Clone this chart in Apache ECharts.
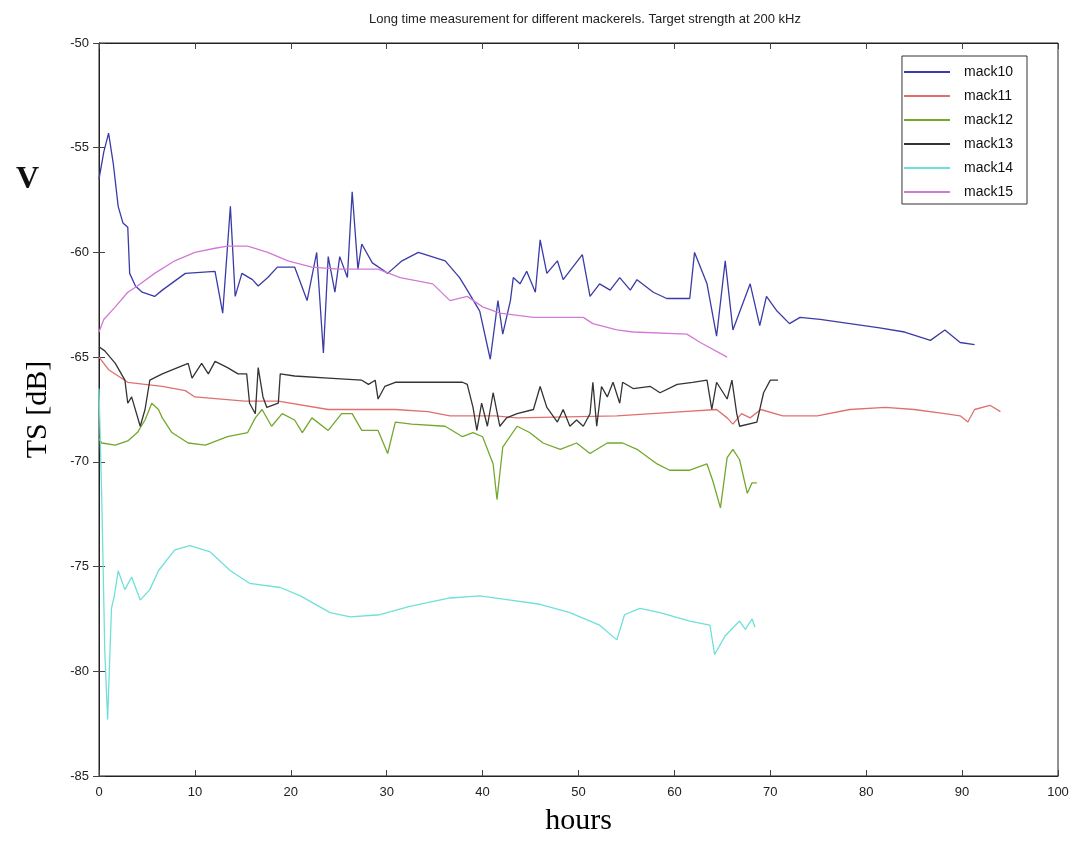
<!DOCTYPE html>
<html><head><meta charset="utf-8">
<script src="https://cdn.jsdelivr.net/npm/echarts@6/dist/echarts.min.js"></script>
<style>html,body{margin:0;padding:0;background:#fff}#c{width:1086px;height:856px}</style>
</head><body><div id="c"></div>
<script>
const seriesNames = ['mack10','mack11','mack12','mack13','mack14','mack15'];
const xTicks = [0,10,20,30,40,50,60,70,80,90,100];
const yTicks = [-85,-80,-75,-70,-65,-60,-55,-50];

const mack10 = [[0,-56.5],[0.5,-55.2],[1,-54.3],[1.5,-55.8],[2,-57.8],[2.5,-58.6],[3,-58.8],[3.2,-61],[3.8,-61.6],[4.5,-61.9],[5.8,-62.1],[6.6,-61.8],[9,-61],[12.1,-60.9],[12.9,-62.9],[13.7,-57.8],[14.2,-62.1],[14.9,-61],[16,-61.3],[16.6,-61.6],[17.6,-61.2],[18.6,-60.7],[20.4,-60.7],[21.7,-62.3],[22.7,-60],[23.4,-64.8],[23.9,-60.2],[24.6,-61.9],[25.1,-60.2],[25.9,-61.2],[26.4,-57.1],[27,-60.8],[27.4,-59.6],[28.5,-60.5],[29.5,-60.8],[30.1,-61],[31.6,-60.4],[33.3,-60],[36.1,-60.4],[37.6,-61.2],[38.4,-61.8],[39.7,-62.8],[40.8,-65.1],[41.6,-62.3],[42.1,-63.9],[42.9,-62.3],[43.2,-61.2],[43.9,-61.5],[44.6,-60.9],[45.5,-61.9],[46,-59.4],[46.7,-61],[47.8,-60.4],[48.4,-61.3],[49.4,-60.7],[50.4,-60.1],[51.2,-62.1],[52.2,-61.5],[53.3,-61.8],[54.3,-61.2],[55.4,-61.8],[56.1,-61.3],[57.8,-61.9],[59.2,-62.2],[61.6,-62.2],[62.1,-60],[63.4,-61.5],[64.4,-64],[65.3,-60.4],[66.1,-63.7],[67.9,-61.5],[68.9,-63.5],[69.6,-62.1],[70.7,-62.8],[72,-63.4],[73.1,-63.1],[75.2,-63.2],[78.3,-63.4],[81.4,-63.6],[84,-63.8],[86.7,-64.2],[88.2,-63.7],[89.8,-64.3],[91.3,-64.4]];
const mack11 = [[0,-65],[1,-65.6],[3,-66.2],[6.6,-66.4],[9,-66.6],[10,-66.9],[15.2,-67.1],[18.7,-67.1],[23.9,-67.5],[30.9,-67.5],[34.3,-67.6],[36.6,-67.8],[41.3,-67.8],[43.6,-67.9],[54,-67.8],[60.9,-67.6],[64.4,-67.5],[65.5,-67.9],[66.1,-68.2],[67,-67.7],[67.9,-67.9],[69,-67.5],[71.3,-67.8],[74.9,-67.8],[78.3,-67.5],[82,-67.4],[85,-67.5],[88.2,-67.7],[89.8,-67.8],[90.6,-68.1],[91.3,-67.5],[92.9,-67.3],[94,-67.6]];
const mack12 = [[0,-68.9],[0.3,-69.1],[1.7,-69.2],[3,-69],[4,-68.6],[4.8,-68],[5.5,-67.2],[6.2,-67.5],[6.6,-67.9],[7.6,-68.6],[9.3,-69.1],[11.1,-69.2],[13.4,-68.8],[15.5,-68.6],[16.3,-67.9],[17,-67.5],[18,-68.3],[19.1,-67.7],[20.4,-68],[21.2,-68.6],[22.2,-67.9],[23.9,-68.5],[25.3,-67.7],[26.4,-67.7],[27.4,-68.5],[29.1,-68.5],[30.1,-69.6],[30.9,-68.1],[32.6,-68.2],[36.1,-68.3],[37.9,-68.8],[39,-68.6],[40,-68.8],[41.1,-70.1],[41.5,-71.8],[42.1,-69.3],[43.6,-68.3],[44.9,-68.6],[46.3,-69.1],[48.1,-69.4],[49.8,-69.1],[51.2,-69.6],[53,-69.1],[54.6,-69.1],[56.1,-69.4],[58.2,-70.1],[59.5,-70.4],[61.6,-70.4],[63.4,-70.1],[64,-70.9],[64.8,-72.2],[65.5,-69.8],[66.1,-69.4],[66.8,-69.9],[67.6,-71.5],[68.1,-71],[68.6,-71]];
const mack13 = [[0,-64.5],[0.6,-64.7],[1.7,-65.3],[2.7,-66.1],[3,-67.2],[3.4,-66.9],[4.3,-68.3],[4.8,-67.5],[5.3,-66.1],[6.6,-65.8],[8.2,-65.5],[9.3,-65.3],[9.7,-66],[10.7,-65.3],[11.4,-65.8],[12.1,-65.2],[13.4,-65.5],[14.5,-65.8],[15.4,-65.8],[15.7,-67.2],[16.3,-67.7],[16.6,-65.5],[17.1,-66.9],[17.5,-67.4],[18.7,-67.2],[18.9,-65.8],[20.4,-65.9],[23.9,-66],[27.4,-66.1],[28.1,-66.3],[28.8,-66.1],[29.1,-67],[29.8,-66.4],[30.9,-66.2],[34.3,-66.2],[37.9,-66.2],[38.4,-66.3],[39,-67.4],[39.4,-68.5],[39.9,-67.2],[40.5,-68.3],[41.1,-66.7],[41.8,-68.3],[42.5,-67.9],[43.6,-67.7],[45.3,-67.5],[46,-66.4],[46.7,-67.4],[47.8,-68.1],[48.4,-67.5],[49.1,-68.3],[49.8,-68],[50.5,-68.3],[51.2,-67.7],[51.5,-66.2],[51.9,-68.3],[52.4,-66.4],[53,-66.9],[53.6,-66.2],[54.3,-67.2],[54.6,-66.2],[55.7,-66.5],[57.5,-66.4],[58.5,-66.7],[60.3,-66.3],[61.9,-66.2],[63.4,-66.1],[63.9,-67.5],[64.4,-66.2],[65.5,-67],[66,-66.1],[66.5,-67.7],[66.8,-68.3],[68.6,-68.1],[69.3,-66.7],[70,-66.1],[70.8,-66.1]];
const mack14 = [[0,-66.5],[0.3,-72],[0.6,-79],[0.9,-82.3],[1.3,-77],[1.6,-76.4],[2,-75.2],[2.7,-76.1],[3.4,-75.5],[4.3,-76.6],[5.3,-76.1],[6.2,-75.2],[7.9,-74.2],[9.5,-74],[11.6,-74.3],[13.7,-75.2],[15.7,-75.8],[18.9,-76],[21,-76.4],[24.1,-77.2],[26.2,-77.4],[29.3,-77.3],[32.4,-76.9],[36.6,-76.5],[39.7,-76.4],[42.9,-76.6],[46,-76.8],[49.1,-77.2],[52.2,-77.8],[54,-78.5],[54.8,-77.3],[56.4,-77],[58.5,-77.2],[61.6,-77.6],[63.7,-77.8],[64.2,-79.2],[65.3,-78.3],[66.8,-77.6],[67.4,-78],[68.1,-77.5],[68.4,-77.9]];
const mack15 = [[0,-63.8],[0.5,-63.2],[1.7,-62.6],[3,-61.9],[4,-61.6],[5.8,-61],[7.9,-60.4],[10,-60],[12.1,-59.8],[13.4,-59.7],[15.5,-59.7],[17.6,-60],[19.7,-60.4],[22.2,-60.7],[25,-60.8],[29.1,-60.8],[31.4,-61.2],[34.8,-61.5],[36.6,-62.3],[38.4,-62.1],[40,-62.6],[41.8,-62.9],[45.3,-63.1],[50.5,-63.1],[51.5,-63.4],[54,-63.7],[55.7,-63.8],[61.3,-63.9],[62.7,-64.3],[65.5,-65]];

const seriesData = [mack10, mack11, mack12, mack13, mack14, mack15];
const colors = ['#3b3ba8', '#e07070', '#74a82c', '#333333', '#6fe0d8', '#d27ad6'];

const chart = echarts.init(document.getElementById('c'), null, {renderer: 'canvas'});
const tickFont = {fontFamily: 'Liberation Sans, Arial, sans-serif', fontSize: 13, color: '#222'};
const option = {
  animation: false,
  backgroundColor: '#fff',
  title: {
    text: 'Long time measurement for different mackerels. Target strength at 200 kHz',
    left: 580, top: 8, textAlign: 'center',
    textStyle: {fontFamily: 'Liberation Sans, Arial, sans-serif', fontSize: 13, fontWeight: 'normal', color: '#222'}
  },
  graphic: [{type: 'text', left: 16, top: 164, style: {text: 'V', font: 'bold 32px "Liberation Serif", serif', fill: '#111'}}],
  grid: {left: 99, right: 28, top: 43, bottom: 80, show: true, borderColor: '#222', borderWidth: 1},
  legend: {
    data: seriesNames, orient: 'vertical', right: 59, top: 56,
    itemWidth: 46, itemHeight: 2, itemGap: 10, icon: 'rect',
    backgroundColor: '#fff', borderColor: '#333', borderWidth: 1, padding: [9, 14, 5, 2],
    textStyle: {fontFamily: 'Liberation Sans, Arial, sans-serif', fontSize: 14, color: '#111', padding: [0, 0, 0, 9]}
  },
  xAxis: [{
    type: 'value', min: 0, max: 100, interval: 10,
    name: 'hours', nameLocation: 'middle', nameGap: 30,
    nameTextStyle: {fontFamily: 'Liberation Serif, Times New Roman, serif', fontSize: 30, color: '#000'},
    axisLine: {show: true, lineStyle: {color: '#222'}},
    axisTick: {show: true, inside: true, length: 6, lineStyle: {color: '#444'}},
    axisLabel: Object.assign({margin: 10, formatter: v => xTicks.includes(v) ? String(v) : ''}, tickFont),
    splitLine: {show: false}
  }, {
    type: 'value', position: 'top', min: 0, max: 100, interval: 10,
    axisLine: {show: true, lineStyle: {color: '#222'}},
    axisTick: {show: true, inside: true, length: 6, lineStyle: {color: '#444'}},
    axisLabel: {show: false}, splitLine: {show: false}
  }],
  yAxis: [{
    type: 'value', min: -85, max: -50, interval: 5,
    name: 'TS [dB]', nameLocation: 'middle', nameGap: 46,
    nameTextStyle: {fontFamily: 'Liberation Serif, Times New Roman, serif', fontSize: 30, color: '#000'},
    axisLine: {show: true, lineStyle: {color: '#222'}},
    axisTick: {show: true, inside: true, length: 6, lineStyle: {color: '#444'}},
    axisLabel: Object.assign({margin: 10, formatter: v => yTicks.includes(v) ? String(v) : ''}, tickFont),
    splitLine: {show: false}
  }, {
    type: 'value', position: 'right', min: -85, max: -50, interval: 5,
    axisLine: {show: true, lineStyle: {color: '#222'}},
    axisTick: {show: true, inside: true, length: 6, lineStyle: {color: '#444'}},
    axisLabel: {show: false}, splitLine: {show: false}
  }],
  series: seriesNames.map((n, i) => ({
    name: n, type: 'line', data: seriesData[i], xAxisIndex: 0, yAxisIndex: 0,
    showSymbol: false, symbol: 'none',
    lineStyle: {color: colors[i], width: 1.3}, itemStyle: {color: colors[i]}
  }))
};
chart.setOption(option);
</script></body></html>
